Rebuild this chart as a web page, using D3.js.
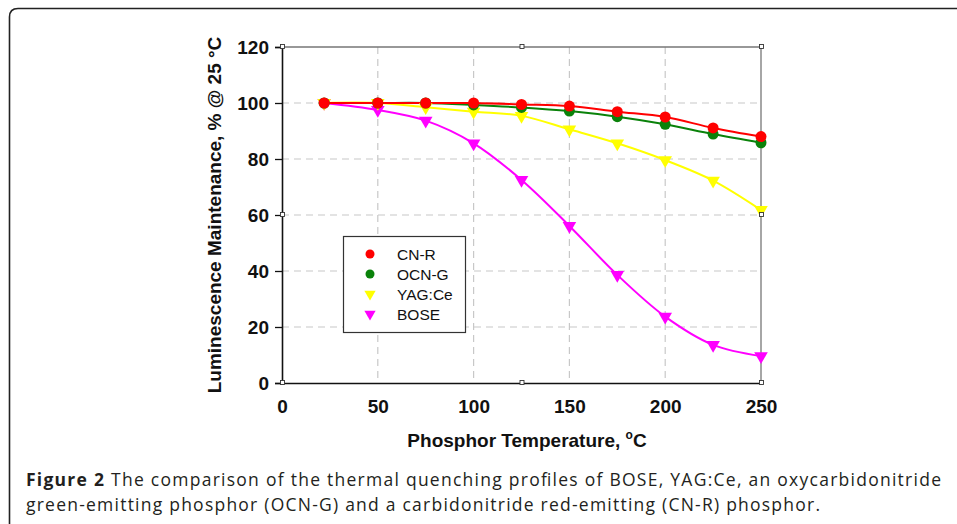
<!DOCTYPE html>
<html>
<head>
<meta charset="utf-8">
<script src="https://cdn.jsdelivr.net/npm/d3@7"></script>
<style>
  body { margin: 0; background: #fff; }
  svg { display: block; }
</style>
</head>
<body>
<div id="chart"></div>
<script>
    var width = 957,
        height = 524;

    // 数据
    var temps = [22, 50, 75, 100, 125, 150, 175, 200, 225, 250];
    var cnR = [100, 100, 100, 100, 99.5, 98.9, 96.9, 95, 91.1, 88];
    var ocnG = [100, 100, 100, 99.3, 98.4, 97.1, 95.1, 92.4, 88.9, 85.8];
    var yagCe = [100, 100, 98.5, 96.9, 95.4, 90.6, 85.6, 79.6, 72.3, 61.8];
    var bose = [100, 97.5, 93.7, 85.6, 72.5, 56.1, 38.6, 23.7, 13.6, 9.6];
    var seriesNames = ["CN-R", "OCN-G", "YAG:Ce", "BOSE"];
    var xTicks = [0, 50, 100, 150, 200, 250];
    var yTicks = [0, 20, 40, 60, 80, 100, 120];

    var series = [
        { name: seriesNames[0], values: cnR, color: "#ff0000", shape: "circle" },
        { name: seriesNames[1], values: ocnG, color: "#0a820a", shape: "circle" },
        { name: seriesNames[2], values: yagCe, color: "#ffff00", shape: "tri" },
        { name: seriesNames[3], values: bose, color: "#ff00ff", shape: "tri" }
    ];

    var plot = { left: 282, top: 47, right: 761, bottom: 383 };

    var x = d3.scaleLinear().domain([0, 250]).range([plot.left, plot.right]);
    var y = d3.scaleLinear().domain([0, 120]).range([plot.bottom, plot.top]);

    var svg = d3.select("#chart").append("svg")
        .attr("width", width)
        .attr("height", height);

    // 外框
    svg.append("path")
        .attr("d", "M9.5,530 L9.5,17 Q9.5,8.5 18,8.5 L970,8.5")
        .attr("fill", "none")
        .attr("stroke", "#222")
        .attr("stroke-width", 1.6);

    // 网格
    var grid = svg.append("g");
    grid.selectAll(".gx")
        .data(xTicks.filter(function (d) { return d > 0 && d < 250; }))
        .enter().append("line")
        .attr("x1", function (d) { return x(d); })
        .attr("x2", function (d) { return x(d); })
        .attr("y1", plot.top)
        .attr("y2", plot.bottom)
        .attr("stroke", "#c8c8c8")
        .attr("stroke-width", 1.2)
        .attr("stroke-dasharray", "7,5");
    grid.selectAll(".gy")
        .data(yTicks.filter(function (d) { return d > 0 && d < 120; }))
        .enter().append("line")
        .attr("x1", plot.left)
        .attr("x2", plot.right)
        .attr("y1", function (d) { return y(d); })
        .attr("y2", function (d) { return y(d); })
        .attr("stroke", "#c8c8c8")
        .attr("stroke-width", 1.2)
        .attr("stroke-dasharray", "7,5");

    // 上、右边框
    svg.append("path")
        .attr("d", "M" + plot.left + "," + plot.top + " L" + plot.right + "," + plot.top + " L" + plot.right + "," + plot.bottom)
        .attr("fill", "none")
        .attr("stroke", "#777")
        .attr("stroke-width", 1.3);

    // 坐标轴
    var yAxis = svg.append("g")
        .attr("transform", "translate(" + plot.left + ",0)")
        .call(d3.axisLeft(y).tickValues(yTicks).tickSize(7).tickPadding(6));
    var xAxis = svg.append("g")
        .attr("transform", "translate(0," + plot.bottom + ")")
        .call(d3.axisBottom(x).tickValues(xTicks).tickSize(0).tickPadding(17));

    [yAxis, xAxis].forEach(function (a) {
        a.select(".domain").attr("stroke", "#111").attr("stroke-width", 1.6);
        a.selectAll(".tick line").attr("stroke", "#111").attr("stroke-width", 1.3);
        a.selectAll("text")
            .attr("font-family", "Liberation Sans, Arial, sans-serif")
            .attr("font-size", "19px")
            .attr("font-weight", "bold")
            .attr("fill", "#111");
    });
    yAxis.selectAll("text").attr("dy", "0.36em");

    // 曲线
    var line = d3.line()
        .x(function (d, i) { return x(temps[i]); })
        .y(function (d) { return y(d); })
        .curve(d3.curveCatmullRom.alpha(0.5));

    var tri = d3.symbol().type(d3.symbolTriangle).size(80);

    series.slice().reverse().forEach(function (s) {
        svg.append("path")
            .datum(s.values)
            .attr("d", line)
            .attr("fill", "none")
            .attr("stroke", s.color)
            .attr("stroke-width", 2);
    });
    series.slice().reverse().forEach(function (s) {
        var g = svg.append("g");
        if (s.shape === "circle") {
            g.selectAll("circle")
                .data(s.values)
                .enter().append("circle")
                .attr("cx", function (d, i) { return x(temps[i]); })
                .attr("cy", function (d) { return y(d); })
                .attr("r", 5.5)
                .attr("fill", s.color);
        } else {
            g.selectAll("path")
                .data(s.values)
                .enter().append("path")
                .attr("d", tri)
                .attr("transform", function (d, i) {
                    return "translate(" + x(temps[i]) + "," + y(d) + ") rotate(180)";
                })
                .attr("fill", s.color);
        }
    });

    // 选中标记小方块
    var midX = (plot.left + plot.right) / 2, midY = (plot.top + plot.bottom) / 2;
    var handles = [[plot.left, plot.top], [midX, plot.top], [plot.right, plot.top],
                   [plot.left, midY], [plot.right, midY],
                   [plot.left, plot.bottom], [midX, plot.bottom], [plot.right, plot.bottom]];
    svg.append("g").selectAll("rect")
        .data(handles)
        .enter().append("rect")
        .attr("x", function (d) { return d[0] - 1.5; })
        .attr("y", function (d) { return d[1] - 2.5; })
        .attr("width", 4)
        .attr("height", 4)
        .attr("fill", "#fff")
        .attr("stroke", "#333")
        .attr("stroke-width", 0.9);

    // 图例
    var legend = svg.append("g");
    legend.append("rect")
        .attr("x", 343.5).attr("y", 236.5)
        .attr("width", 122).attr("height", 96)
        .attr("fill", "#fff")
        .attr("stroke", "#333")
        .attr("stroke-width", 1.2);
    series.forEach(function (s, i) {
        var ly = 254 + i * 20;
        if (s.shape === "circle") {
            legend.append("circle").attr("cx", 370).attr("cy", ly).attr("r", 4.5).attr("fill", s.color);
        } else {
            legend.append("path").attr("d", d3.symbol().type(d3.symbolTriangle).size(55))
                .attr("transform", "translate(370," + ly + ") rotate(180)")
                .attr("fill", s.color);
        }
        legend.append("text")
            .attr("x", 397).attr("y", ly + 5.5)
            .attr("font-family", "Liberation Sans, Arial, sans-serif")
            .attr("font-size", "15.5px")
            .attr("fill", "#111")
            .text(s.name);
    });

    // 轴标题
    var xt = svg.append("text")
        .attr("x", 527).attr("y", 447)
        .attr("text-anchor", "middle")
        .attr("font-family", "Liberation Sans, Arial, sans-serif")
        .attr("font-size", "19px")
        .attr("font-weight", "bold")
        .attr("fill", "#111");
    xt.append("tspan").text("Phosphor Temperature, ");
    xt.append("tspan").attr("font-size", "12px").attr("dy", "-8").text("o");
    xt.append("tspan").attr("dy", "8").text("C");

    svg.append("text")
        .attr("transform", "translate(221,215) rotate(-90)")
        .attr("text-anchor", "middle")
        .attr("font-family", "Liberation Sans, Arial, sans-serif")
        .attr("font-size", "19px")
        .attr("font-weight", "bold")
        .attr("fill", "#111")
        .text("Luminescence Maintenance, % @ 25 °C");

    // 图注
    var cap1 = svg.append("text")
        .attr("x", 26).attr("y", 486)
        .attr("textLength", 915)
        .attr("font-family", "Open Sans, sans-serif")
        .attr("font-size", "17.5px")
        .attr("fill", "#231f20");
    cap1.append("tspan").attr("font-weight", "bold").text("Figure 2");
    cap1.append("tspan").text(" The comparison of the thermal quenching profiles of BOSE, YAG:Ce, an oxycarbidonitride");
    svg.append("text")
        .attr("x", 26).attr("y", 511)
        .attr("textLength", 794)
        .attr("font-family", "Open Sans, sans-serif")
        .attr("font-size", "17.5px")
        .attr("fill", "#231f20")
        .text("green-emitting phosphor (OCN-G) and a carbidonitride red-emitting (CN-R) phosphor.");
</script>
</body>
</html>
